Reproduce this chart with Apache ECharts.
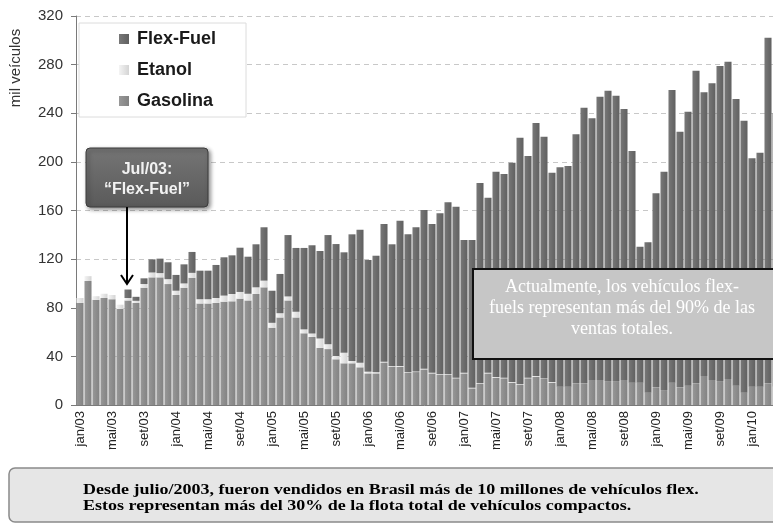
<!DOCTYPE html>
<html><head><meta charset="utf-8">
<script src="https://cdn.jsdelivr.net/npm/echarts@6/dist/echarts.min.js"></script>
<style>html,body{margin:0;padding:0;background:#fff}#c{width:773px;height:525px}</style>
</head><body><div id="c"></div><script>
const categories = [
 'jan/03','fev/03','mar/03','abr/03','mai/03','jun/03','jul/03','ago/03','set/03','out/03','nov/03','dez/03',
 'jan/04','fev/04','mar/04','abr/04','mai/04','jun/04','jul/04','ago/04','set/04','out/04','nov/04','dez/04',
 'jan/05','fev/05','mar/05','abr/05','mai/05','jun/05','jul/05','ago/05','set/05','out/05','nov/05','dez/05',
 'jan/06','fev/06','mar/06','abr/06','mai/06','jun/06','jul/06','ago/06','set/06','out/06','nov/06','dez/06',
 'jan/07','fev/07','mar/07','abr/07','mai/07','jun/07','jul/07','ago/07','set/07','out/07','nov/07','dez/07',
 'jan/08','fev/08','mar/08','abr/08','mai/08','jun/08','jul/08','ago/08','set/08','out/08','nov/08','dez/08',
 'jan/09','fev/09','mar/09','abr/09','mai/09','jun/09','jul/09','ago/09','set/09','out/09','nov/09','dez/09',
 'jan/10','fev/10','mar/10','abr/10'
];
const gasolina = [
 84,102,86.5,88,87,79,86,84,96.5,105,105,99.5,
 90.5,96.5,104.7,83.5,83.5,84,85,85.3,87.5,86,91.3,96.8,
 63.6,72,86,72,59,56,47,46,37.6,34.3,34.3,31,
 26,26,35,31.5,31.5,26.5,27.1,29.3,26,24.7,24.7,22,
 26,13.7,17.3,26,22.5,22,18.4,16.5,22,23.3,21.4,18.4,
 15.1,15.1,17.8,17.8,20.6,20.6,19.7,19.7,20.6,18.4,18.4,10.1,
 14.5,12.3,18.4,14.5,15.9,17.8,23.9,20.6,19.7,21.4,15.9,10.1,
 15.1,15.1,17.8,15
];
const etanol = [
 4,4,3,3.5,3.5,3.5,2,1.7,3,4,3.5,4,
 3.5,3.5,4,3.5,3.5,4,5,6,5.5,5.5,5.5,5.5,
 4,3.5,3.3,4.7,3.2,2.8,7.7,4,2.7,8.7,1.9,3.8,
 1.4,1,0.6,0.5,0.5,0.5,0.5,0.5,0.5,0.5,0.5,0.5,
 0.5,0.5,0.5,0.5,0.5,0.5,0.5,0.5,0.5,0.5,0.5,0.5,
 0,0,0,0,0,0,0,0,0,0,0,0,
 0,0,0,0,0,0,0,0,0,0,0,0,
 0,0,0,0
];
const flexFuel = [
 0,0,0,0,0,0,7,3.3,4.7,10.8,11.9,13.9,
 13,15.7,17.2,23.5,23.5,27.2,31.5,31.8,36.4,30.5,35.4,43.9,
 26.4,32.3,50.5,52.5,67,72.6,72,89.8,92.1,82.6,104.2,109.4,
 91.9,95.8,113.3,100.2,119.6,113.4,118.6,130.6,122.4,132.5,141.5,140.6,
 109.2,121.5,164.8,144,168.9,167.5,180.4,202.9,182.3,208.2,198.8,172.2,
 180.4,181.5,204.9,226.8,215.2,233,238.9,234.7,222.9,190.6,111.8,123.7,
 159.7,179.6,240.7,210.3,225.4,257.2,233.3,244,259.2,261,235.8,223.8,
 187.8,192.4,284.4,225
];
const seriesNames = ['Flex-Fuel','Etanol','Gasolina'];
const yMax = 320, yStep = 40;
const yAxisName = 'mil veículos';
const noteFlex = ['Jul/03:', '\u201CFlex-Fuel\u201D'];
const noteShare = ['Actualmente, los vehículos flex-', 'fuels representan más del 90% de las', 'ventas totales.'];
const noteFooter = ['Desde julio/2003, fueron vendidos en Brasil más de 10 millones de vehículos flex.',
  'Estos representan más del 30% de la flota total de vehículos compactos.'];

function grad(a, b) {
  return {type:'linear', x:0, y:0, x2:1, y2:0, colorStops:[{offset:0,color:a},{offset:1,color:b}]};
}
const colFlex = grad('#787878', '#606060');
const colEta = grad('#f4f4f4', '#d4d4d4');
const colGas = grad('#989898', '#828282');

const chart = echarts.init(document.getElementById('c'), null, {renderer:'canvas'});
const sans = 'Liberation Sans, Arial, sans-serif';
const serif = 'Liberation Serif, Times New Roman, serif';
chart.setOption({
  animation: false,
  backgroundColor: '#fff',
  grid: {left: 76, top: 16, width: 704, height: 389, containLabel: false, outerBoundsMode: 'none'},
  legend: {
    data: seriesNames, orient: 'vertical', left: 79, top: 23,
    backgroundColor: '#fff', borderColor: '#dcdcdc', borderWidth: 1,
    padding: [7, 30, 7, 40], itemGap: 13, itemWidth: 10, itemHeight: 10, icon: 'rect',
    textStyle: {fontFamily: sans, fontWeight: 'bold', fontSize: 18, color: '#1a1a1a', padding: [0,0,0,3]}
  },
  xAxis: {
    type: 'category', data: categories, boundaryGap: true,
    axisLine: {lineStyle: {color: '#7a7a7a'}},
    axisTick: {interval: 3, length: 5, lineStyle: {color: '#7a7a7a'}},
    axisLabel: {interval: 3, rotate: 90, fontFamily: sans, fontSize: 13, color: '#222', margin: 6}
  },
  yAxis: {
    type: 'value', min: 0, max: yMax, interval: yStep,
    axisLine: {show: true, lineStyle: {color: '#7a7a7a'}},
    axisTick: {show: true, length: 5, lineStyle: {color: '#7a7a7a'}},
    axisLabel: {fontFamily: sans, fontSize: 15, color: '#333', margin: 13},
    splitLine: {lineStyle: {type: [5, 4], color: '#c8c8c8'}}
  },
  series: [
    {name: 'Gasolina', type: 'bar', stack: 't', data: gasolina, barCategoryGap: '12%', itemStyle: {color: colGas}},
    {name: 'Etanol', type: 'bar', stack: 't', data: etanol, barCategoryGap: '12%', itemStyle: {color: colEta}},
    {name: 'Flex-Fuel', type: 'bar', stack: 't', data: flexFuel, barCategoryGap: '12%', itemStyle: {color: colFlex}}
  ],
  graphic: [
    {type: 'text', x: 16, y: 68, rotation: Math.PI/2, z: 100,
     style: {text: yAxisName, font: '15px ' + sans, fill: '#333', align: 'center', verticalAlign: 'middle'}},
    {type: 'rect', z: 100, shape: {x: 86, y: 148, width: 122, height: 59, r: 4},
     style: {fill: {type:'linear', x:0,y:0,x2:0,y2:1, colorStops:[{offset:0,color:'#757575'},{offset:1,color:'#5a5a5a'}]},
             stroke: '#3c3c3c', lineWidth: 1, shadowBlur: 4, shadowOffsetX: 2, shadowOffsetY: 2, shadowColor: 'rgba(0,0,0,0.45)'}},
    {type: 'text', z: 101, x: 147, y: 170,
     style: {text: noteFlex[0], font: 'bold 16px ' + sans, fill: '#f2f2f2', align: 'center', verticalAlign: 'middle'}},
    {type: 'text', z: 101, x: 147, y: 190,
     style: {text: noteFlex[1], font: 'bold 16px ' + sans, fill: '#f2f2f2', align: 'center', verticalAlign: 'middle'}},
    {type: 'line', z: 100, shape: {x1: 127, y1: 207, x2: 127, y2: 283}, style: {stroke: '#000', lineWidth: 2}},
    {type: 'polyline', z: 100, shape: {points: [[121, 275], [127, 284], [133, 275]]}, style: {stroke: '#000', lineWidth: 2, fill: null}},
    {type: 'rect', z: 100, shape: {x: 473, y: 269, width: 310, height: 90},
     style: {fill: '#c6c6c6', stroke: '#111', lineWidth: 2}},
    {type: 'text', z: 101, x: 622, y: 287,
     style: {text: noteShare[0], font: '18px ' + serif, fill: '#fff', align: 'center', verticalAlign: 'middle'}},
    {type: 'text', z: 101, x: 622, y: 308,
     style: {text: noteShare[1], font: '18px ' + serif, fill: '#fff', align: 'center', verticalAlign: 'middle'}},
    {type: 'text', z: 101, x: 622, y: 329,
     style: {text: noteShare[2], font: '18px ' + serif, fill: '#fff', align: 'center', verticalAlign: 'middle'}},
    {type: 'rect', z: 100, shape: {x: 9, y: 468, width: 790, height: 54, r: 6},
     style: {fill: '#e6e6e6', stroke: '#8a8a8a', lineWidth: 1.5}},
    {type: 'text', z: 101, x: 83, y: 490, scaleX: 1.2,
     style: {text: noteFooter[0], font: 'bold 15px ' + serif, fill: '#000', align: 'left', verticalAlign: 'middle'}},
    {type: 'text', z: 101, x: 83, y: 506, scaleX: 1.2,
     style: {text: noteFooter[1], font: 'bold 15px ' + serif, fill: '#000', align: 'left', verticalAlign: 'middle'}}
  ]
});
</script></body></html>
